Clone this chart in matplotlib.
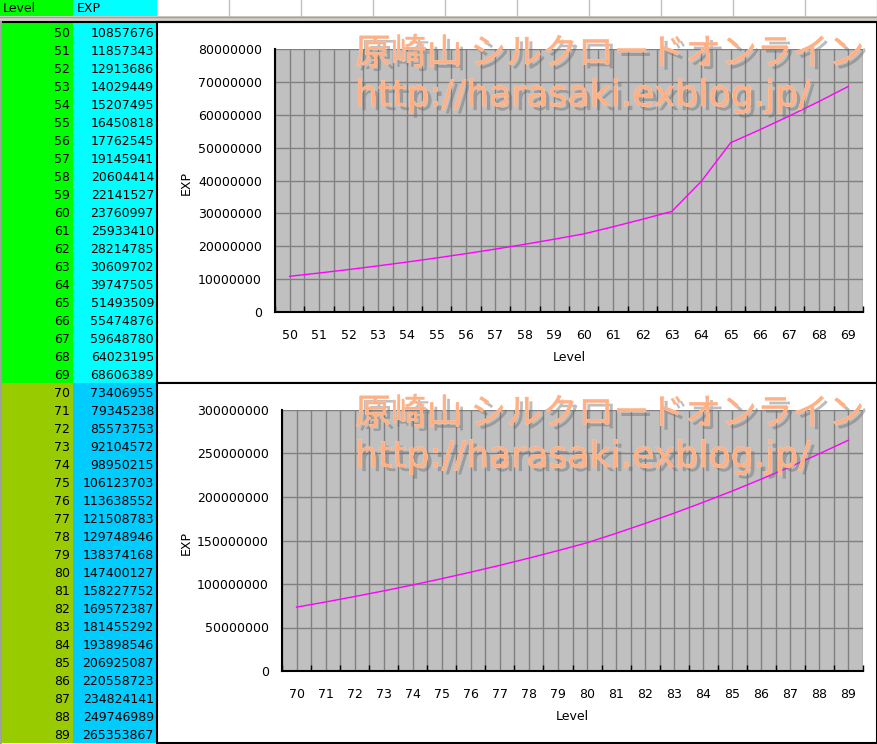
import matplotlib
matplotlib.use('Agg')
import matplotlib.pyplot as plt
import matplotlib.patheffects as pe
from matplotlib.patches import Rectangle
import numpy as np

# ---------------- data ----------------
levels_a = [50, 51, 52, 53, 54, 55, 56, 57, 58, 59, 60, 61, 62, 63, 64, 65, 66, 67, 68, 69]
exp_a = [10857676, 11857343, 12913686, 14029449, 15207495, 16450818, 17762545, 19145941,
         20604414, 22141527, 23760997, 25933410, 28214785, 30609702, 39747505, 51493509,
         55474876, 59648780, 64023195, 68606389]
levels_b = [70, 71, 72, 73, 74, 75, 76, 77, 78, 79, 80, 81, 82, 83, 84, 85, 86, 87, 88, 89]
exp_b = [73406955, 79345238, 85573753, 92104572, 98950215, 106123703, 113638552, 121508783,
         129748946, 138374168, 147400127, 158227752, 169572387, 181455292, 193898546,
         206925087, 220558723, 234824141, 249746989, 265353867]
yticks_a = [0, 10000000, 20000000, 30000000, 40000000, 50000000, 60000000, 70000000, 80000000]
yticks_b = [0, 50000000, 100000000, 150000000, 200000000, 250000000, 300000000]
header = ['Level', 'EXP']
axis_x_label = 'Level'
axis_y_label = 'EXP'
watermark_title = '原崎山 シルクロードオンライン'
watermark_url = 'http://harasaki.exblog.jp/'

# ---------------- layout ----------------
W, H = 878, 744
fig = plt.figure(figsize=(W / 100, H / 100), dpi=100)
fig.patch.set_facecolor('white')

bg = fig.add_axes([0, 0, 1, 1], zorder=0)
bg.set_xlim(0, W)
bg.set_ylim(H, 0)
bg.axis('off')

FS = 9
# header row
bg.add_patch(Rectangle((0, 0), 73, 16, facecolor='#00FF00', edgecolor='none'))
bg.add_patch(Rectangle((73, 0), 84, 16, facecolor='#00FFFF', edgecolor='none'))
for xx in range(229, W + 1, 72):
    bg.plot([xx, xx], [0, 16], color='#C0C0C0', lw=1)
bg.text(3, 9, header[0], ha='left', va='center', fontsize=FS, color='black')
bg.text(77, 9, header[1], ha='left', va='center', fontsize=FS, color='black')
bg.add_patch(Rectangle((0, 16), W, 6, facecolor='#D4D0C8', edgecolor='none'))
bg.plot([0, W], [16.5, 16.5], color='#A0A0A0', lw=1)
bg.plot([0, W], [22, 22], color='black', lw=1.5)

ROW = 18
top0 = 23
blocks = [(levels_a, exp_a, '#00FF00', '#00FFFF', top0),
          (levels_b, exp_b, '#99CC00', '#00CCFF', top0 + ROW * len(levels_a))]
for lv, ex, c1, c2, y0 in blocks:
    n = len(lv)
    bg.add_patch(Rectangle((2, y0), 71, ROW * n, facecolor=c1, edgecolor='none'))
    bg.add_patch(Rectangle((73, y0), 84, ROW * n, facecolor=c2, edgecolor='none'))
    for i, (l, e) in enumerate(zip(lv, ex)):
        yc = y0 + ROW * i + ROW / 2 + 1.5
        bg.text(70, yc, str(l), ha='right', va='center', fontsize=FS, color='black')
        bg.text(154, yc, str(e), ha='right', va='center', fontsize=FS, color='black')
bg.plot([1, 1], [22, H], color='#A0A0A0', lw=1.5)

# chart boxes
bg.add_patch(Rectangle((157, 22), 720, 361, facecolor='white', edgecolor='black', lw=1.5))
bg.add_patch(Rectangle((157, 383), 720, 360, facecolor='white', edgecolor='black', lw=1.5))


def make_chart(rect, levels, exps, yticks, xlab_y, ylab_x):
    l, t, r, b = rect
    ax = fig.add_axes([l / W, 1 - b / H, (r - l) / W, (b - t) / H], zorder=1)
    ax.set_facecolor('#C0C0C0')
    n = len(levels)
    x = np.arange(n)
    ax.plot(x, exps, color='#FF00FF', lw=1, zorder=3)
    ax.set_xlim(-0.5, n - 0.5)
    ax.set_ylim(yticks[0], yticks[-1])
    ax.set_yticks(yticks)
    ax.set_yticklabels([str(v) for v in yticks], fontsize=FS)
    ax.set_xticks(np.arange(-0.5, n, 1.0))
    ax.set_xticklabels([])
    ax.set_xticks(x, minor=True)
    ax.set_xticklabels([str(v) for v in levels], minor=True, fontsize=FS)
    ax.tick_params(axis='x', which='major', direction='in', length=4, width=1, color='black')
    ax.tick_params(axis='x', which='minor', length=0, pad=12)
    ax.tick_params(axis='y', length=0, pad=9.5)
    ax.grid(True, which='both', axis='x', color='#808080', lw=1)
    ax.grid(True, which='major', axis='y', color='#808080', lw=1)
    ax.set_axisbelow(True)
    for s in ['top', 'right']:
        ax.spines[s].set_visible(False)
    for s in ['left', 'bottom']:
        ax.spines[s].set_color('black')
        ax.spines[s].set_linewidth(1.5)
    ax.set_xlabel(axis_x_label, fontsize=FS)
    ax.set_ylabel(axis_y_label, fontsize=FS)
    ax.xaxis.set_label_coords(0.5, -(xlab_y - b) / (b - t))
    ax.xaxis.label.set_va('center')
    ax.yaxis.set_label_coords((ylab_x - l) / (r - l), 0.49)
    ax.yaxis.label.set_va('center')
    return ax


make_chart((275, 49, 863, 312), levels_a, exp_a, yticks_a, 357, 186)
make_chart((282, 410, 863, 671), levels_b, exp_b, yticks_b, 716, 186)

# watermark overlay
ov = fig.add_axes([0, 0, 1, 1], zorder=5)
ov.set_xlim(0, W)
ov.set_ylim(H, 0)
ov.axis('off')
ov.patch.set_alpha(0)

effects = [pe.withSimplePatchShadow(offset=(3, -3), shadow_rgbFace='#6E6E6E', alpha=0.45),
           pe.withStroke(linewidth=0.5, foreground='#FFCDB0')]

renderer = fig.canvas.get_renderer()


def fit_text(x, y, s, width, family, base=24, weight='normal'):
    t = ov.text(x, y, s, ha='left', va='baseline', fontsize=base, color='#FFB084',
                family=family, fontweight=weight, path_effects=effects)
    w = t.get_window_extent(renderer=renderer).width
    t.set_fontsize(base * width / w)
    return t


for y1, y2 in [(64, 106), (424, 467)]:
    fit_text(355, y1, watermark_title, 510, ['Noto Sans CJK JP', 'DejaVu Sans'])
    fit_text(355, y2, watermark_url, 456, ['DejaVu Sans'])

fig.savefig('out.png', dpi=100)
